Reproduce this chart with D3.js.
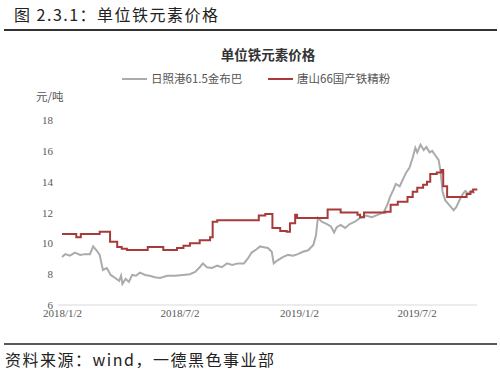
<!DOCTYPE html>
<html>
<head>
<meta charset="utf-8">
<script src="https://cdn.jsdelivr.net/npm/d3@7"></script>
<style>
  body { margin: 0; background: #fff; }
  svg { display: block; font-family: "Noto Sans CJK SC", sans-serif; }
</style>
</head>
<body>
<div id="chart"></div>
<script>
// 单位铁元素价格 (元/吨 scale as shown on chart)
const seriesNames = ['日照港61.5金布巴', '唐山66国产铁精粉'];
const tickDates = ['2018-01-02', '2018-07-02', '2019-01-02', '2019-07-02'];
const tickLabels = ['2018/1/2', '2018/7/2', '2019/1/2', '2019/7/2'];
const yTicks = [6, 8, 10, 12, 14, 16, 18];

// 日照港61.5金布巴
const rizhaoDates = ['2018-01-02','2018-01-07','2018-01-14','2018-01-22','2018-01-30','2018-02-06','2018-02-14','2018-02-19','2018-02-25','2018-03-01','2018-03-06','2018-03-12','2018-03-18','2018-03-25','2018-03-31','2018-04-03','2018-04-05','2018-04-10','2018-04-15','2018-04-20','2018-04-26','2018-05-02','2018-05-10','2018-05-17','2018-05-25','2018-06-02','2018-06-13','2018-06-25','2018-07-07','2018-07-18','2018-07-26','2018-08-02','2018-08-07','2018-08-13','2018-08-21','2018-08-29','2018-09-05','2018-09-13','2018-09-21','2018-09-30','2018-10-09','2018-10-15','2018-10-21','2018-10-28','2018-11-03','2018-11-09','2018-11-15','2018-11-21','2018-11-24','2018-11-30','2018-12-08','2018-12-16','2018-12-24','2018-12-31','2019-01-08','2019-01-16','2019-01-24','2019-01-28','2019-01-31','2019-02-06','2019-02-14','2019-02-20','2019-02-25','2019-03-01','2019-03-07','2019-03-14','2019-03-21','2019-03-29','2019-04-06','2019-04-15','2019-04-24','2019-05-03','2019-05-12','2019-05-17','2019-05-22','2019-05-27','2019-05-31','2019-06-06','2019-06-12','2019-06-16','2019-06-21','2019-06-26','2019-06-30','2019-07-03','2019-07-08','2019-07-13','2019-07-17','2019-07-22','2019-07-26','2019-07-31','2019-08-05','2019-08-08','2019-08-11','2019-08-15','2019-08-22','2019-08-28','2019-09-01','2019-09-06','2019-09-11','2019-09-15','2019-09-20','2019-09-24','2019-09-29'];
const rizhaoValues = [9.12,9.3,9.2,9.4,9.25,9.3,9.3,9.8,9.5,9.25,8.27,8.4,7.95,7.75,7.56,7.9,7.36,7.7,7.5,7.95,7.9,8.1,7.95,7.9,7.8,7.75,7.9,7.9,7.95,8.0,8.15,8.45,8.7,8.45,8.4,8.55,8.45,8.7,8.6,8.7,8.7,9.0,9.4,9.6,9.8,9.75,9.7,9.45,8.7,8.9,9.1,9.25,9.2,9.3,9.45,9.55,9.9,10.5,11.65,11.4,11.25,11.1,10.7,11.05,11.2,11.0,11.25,11.4,11.65,11.8,11.7,11.85,12.0,12.4,13.0,13.45,13.85,13.7,14.25,14.6,14.9,15.55,16.2,15.9,16.4,16.05,16.25,15.9,16.0,15.7,15.4,14.6,13.35,12.8,12.45,12.15,12.35,12.8,13.2,13.4,13.2,13.4,13.25];

// 唐山66国产铁精粉
const tangshanDates = ['2018-01-02','2018-01-24','2018-01-31','2018-03-01','2018-03-09','2018-03-17','2018-03-28','2018-04-04','2018-04-12','2018-05-14','2018-06-07','2018-06-28','2018-07-08','2018-07-18','2018-08-02','2018-08-18','2018-08-22','2018-08-29','2018-11-01','2018-11-11','2018-11-22','2018-12-04','2018-12-14','2018-12-19','2018-12-27','2018-12-30','2019-02-15','2019-03-07','2019-04-02','2019-04-06','2019-04-12','2019-05-15','2019-05-23','2019-06-03','2019-06-18','2019-06-26','2019-07-03','2019-07-12','2019-07-18','2019-07-23','2019-08-02','2019-08-09','2019-08-12','2019-08-18','2019-09-12','2019-09-17','2019-09-23','2019-09-27','2019-10-02'];
const tangshanValues = [10.6,10.4,10.6,10.75,10.75,10.1,9.77,9.65,9.57,9.77,9.57,9.7,9.85,10.0,10.2,10.4,11.4,11.5,11.8,11.9,11.0,10.8,10.75,11.3,11.85,11.65,12.2,12.0,11.85,11.7,12.0,12.05,12.5,12.7,13.0,13.35,13.6,13.8,14.0,14.5,14.6,14.75,13.7,13.0,13.0,13.2,13.35,13.5,13.55];

const W = 500, H = 376;
const parse = d3.timeParse('%Y-%m-%d');
const svg = d3.select('#chart').append('svg').attr('width', W).attr('height', H);

// header
svg.append('text').attr('x', 14).attr('y', 21).attr('font-size', 16).attr('letter-spacing', 1.5).attr('fill', '#222')
  .text('图 2.3.1：单位铁元素价格');
svg.append('line').attr('x1', 4).attr('x2', 497).attr('y1', 30).attr('y2', 30)
  .attr('stroke', '#333').attr('stroke-width', 2);

// footer
svg.append('line').attr('x1', 4).attr('x2', 497).attr('y1', 344).attr('y2', 344)
  .attr('stroke', '#222').attr('stroke-width', 1.5);
svg.append('text').attr('x', 5).attr('y', 366).attr('font-size', 16).attr('letter-spacing', 1.5).attr('fill', '#222')
  .text('资料来源：wind，一德黑色事业部');

// chart title
svg.append('text').attr('x', 268).attr('y', 60).attr('text-anchor', 'middle')
  .attr('font-size', 13.5).attr('font-weight', 'bold').attr('fill', '#333')
  .text('单位铁元素价格');

const x = d3.scaleTime().domain([parse('2018-01-02'), parse('2019-10-03')]).range([62, 477]);
const y = d3.scaleLinear().domain([6, 18]).range([305, 120]);

// y axis labels
svg.append('text').attr('x', 36).attr('y', 101).attr('font-size', 11.5).attr('fill', '#555').text('元/吨');
const yAxis = d3.axisLeft(y).tickValues(yTicks).tickSize(0).tickPadding(0);
const gy = svg.append('g').attr('transform', 'translate(53,0)').call(yAxis);
gy.select('.domain').remove();
gy.selectAll('text').attr('font-family', '"Liberation Serif", serif').attr('font-size', 11).attr('fill', '#595959');

// x axis
const xAxis = d3.axisBottom(x).tickValues(tickDates.map(parse))
  .tickFormat((d, i) => tickLabels[i]).tickSize(0).tickPadding(4);
const gx = svg.append('g').attr('transform', 'translate(0,305)').call(xAxis);
gx.select('.domain').attr('stroke', '#d9d9d9').attr('d', 'M58,0H477');
gx.selectAll('text').attr('font-family', '"Liberation Serif", serif').attr('font-size', 11).attr('fill', '#595959');

// lines
const line = d3.line().x(d => x(d[0])).y(d => y(d[1]));
const rizhao = rizhaoDates.map((d, i) => [parse(d), rizhaoValues[i]]);
const tangshan = tangshanDates.map((d, i) => [parse(d), tangshanValues[i]]);

svg.append('path').datum(rizhao).attr('d', line.curve(d3.curveLinear))
  .attr('fill', 'none').attr('stroke', '#ababab').attr('stroke-width', 2);
svg.append('path').datum(tangshan).attr('d', line.curve(d3.curveStepAfter))
  .attr('fill', 'none').attr('stroke', '#a83a3a').attr('stroke-width', 2);

// legend
const legend = [
  { name: seriesNames[0], color: '#ababab', x: 122 },
  { name: seriesNames[1], color: '#a83a3a', x: 268 }
];
const lg = svg.append('g').selectAll('g').data(legend).join('g')
  .attr('transform', d => `translate(${d.x},79)`);
lg.append('line').attr('x1', 0).attr('x2', 25).attr('stroke', d => d.color).attr('stroke-width', 2);
lg.append('text').attr('x', 29).attr('dy', '0.35em').attr('font-size', 11.5).attr('fill', '#555')
  .text(d => d.name);
</script>
</body>
</html>
